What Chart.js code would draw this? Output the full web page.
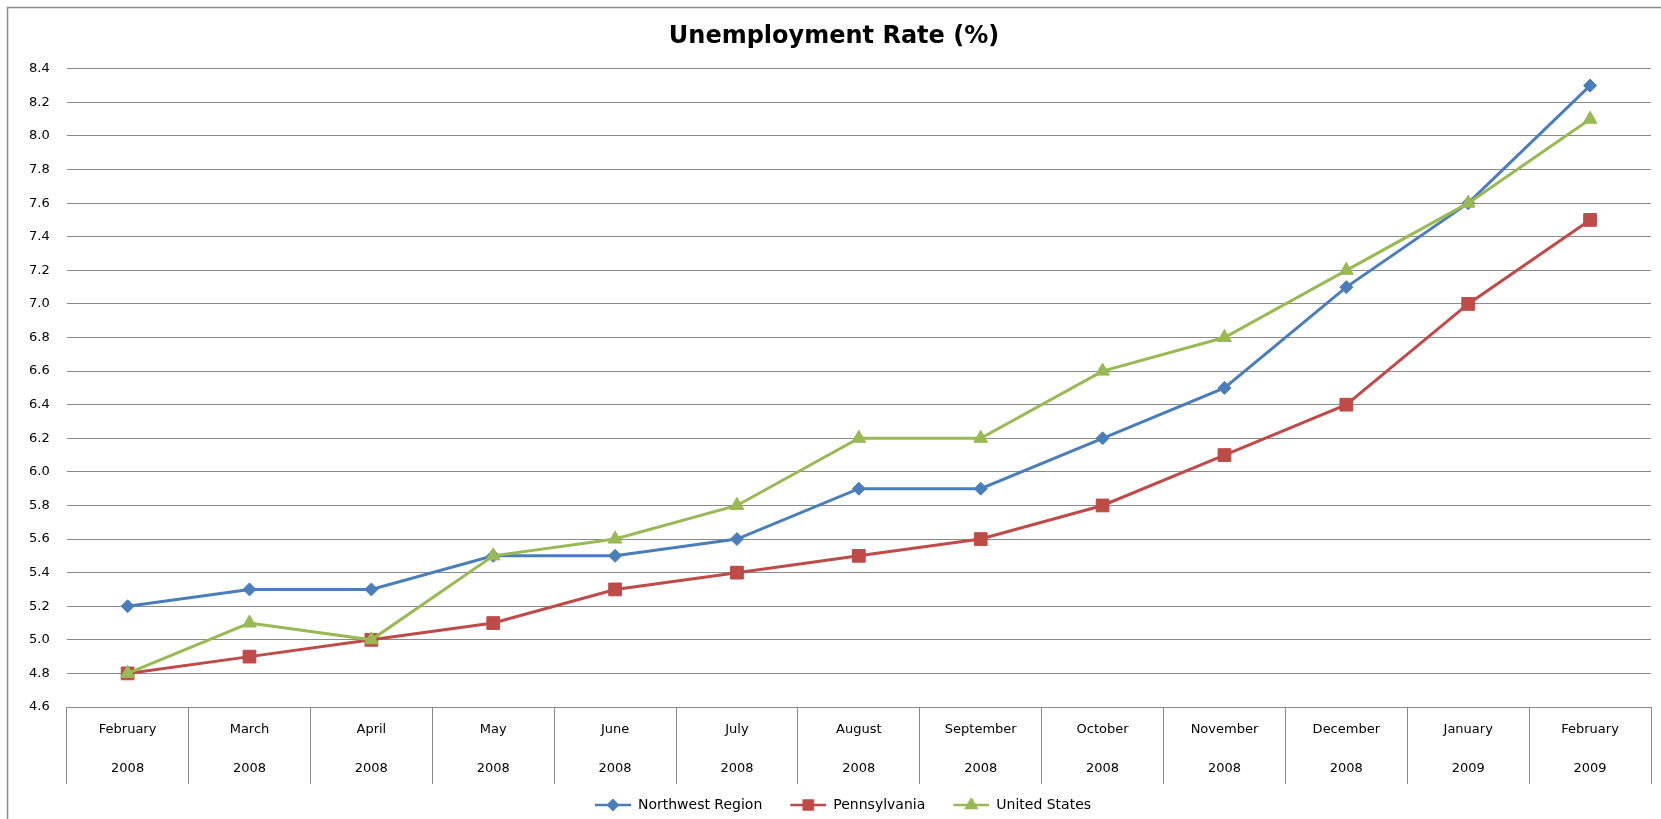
<!DOCTYPE html>
<html>
<head>
<meta charset="utf-8">
<title>Unemployment Rate (%)</title>
<script src="https://cdn.jsdelivr.net/npm/chart.js@4.4.0/dist/chart.umd.min.js"></script>
<style>
  html, body { margin: 0; padding: 0; background: #fff; }
  #wrap { width: 1661px; height: 819px; position: relative; }
</style>
</head>
<body>
<div id="wrap"><canvas id="chart" width="1661" height="819"></canvas></div>
<script>
// category axis: month on first line, year on second
const months = ['February', 'March', 'April', 'May', 'June', 'July', 'August',
  'September', 'October', 'November', 'December', 'January', 'February'];
const years = ['2008', '2008', '2008', '2008', '2008', '2008', '2008',
  '2008', '2008', '2008', '2008', '2009', '2009'];

// series values (%)
const northwest = [5.2, 5.3, 5.3, 5.5, 5.5, 5.6, 5.9, 5.9, 6.2, 6.5, 7.1, 7.6, 8.3];
const pennsylvania = [4.8, 4.9, 5.0, 5.1, 5.3, 5.4, 5.5, 5.6, 5.8, 6.1, 6.4, 7.0, 7.5];
const unitedStates = [4.8, 5.1, 5.0, 5.5, 5.6, 5.8, 6.2, 6.2, 6.6, 6.8, 7.2, 7.6, 8.1];

// value axis
const yMin = 4.6;
const yMax = 8.4;
const yStep = 0.2;

const FONT = 'DejaVu Sans';
const GRID = '#8a8a8a';

const series = [
  { label: 'Northwest Region', data: northwest, color: '#4a7ebb', style: 'rectRot', radius: 6.5, order: 3 },
  { label: 'Pennsylvania', data: pennsylvania, color: '#be4b48', style: 'rect', radius: 9, order: 2 },
  { label: 'United States', data: unitedStates, color: '#98b954', style: 'triangle', radius: 8, order: 1 },
];

// legend icon: blank lead-in (acts as gap between entries) then line + marker
const ICON_W = 54, ICON_GAP = 18;
function legendIcon(s) {
  const c = document.createElement('canvas');
  c.width = ICON_W; c.height = 14;
  const ctx = c.getContext('2d');
  ctx.strokeStyle = s.color;
  ctx.lineWidth = 2.5;
  ctx.beginPath();
  ctx.moveTo(ICON_GAP, 7); ctx.lineTo(ICON_W, 7);
  ctx.stroke();
  ctx.fillStyle = s.color;
  Chart.helpers.drawPoint(ctx, { pointStyle: s.style, radius: s.radius * 0.72, rotation: 0, borderWidth: 1 },
    ICON_GAP + (ICON_W - ICON_GAP) / 2, 7);
  return c;
}

const framePlugin = {
  id: 'frame',
  beforeDraw(chart) {
    const ctx = chart.ctx;
    ctx.save();
    ctx.strokeStyle = '#8c8c8c';
    ctx.lineWidth = 1.5;
    ctx.beginPath();
    ctx.moveTo(7.5, chart.height + 5);
    ctx.lineTo(7.5, 7.5);
    ctx.lineTo(chart.width + 5, 7.5);
    ctx.stroke();
    ctx.restore();
  }
};

new Chart(document.getElementById('chart'), {
  type: 'line',
  data: {
    labels: months.map((m, i) => [m, years[i]]),
    datasets: series.map(s => ({
      label: s.label,
      data: s.data,
      borderColor: s.color,
      backgroundColor: s.color,
      borderWidth: 3,
      pointStyle: s.style,
      pointRadius: s.radius,
      pointBorderWidth: 1,
      pointBackgroundColor: s.color,
      pointBorderColor: s.color,
      tension: 0,
      order: s.order,
    })),
  },
  options: {
    responsive: false,
    animation: false,
    devicePixelRatio: 1,
    layout: { padding: { left: 12, right: 5, top: 0, bottom: -3 } },
    plugins: {
      tooltip: { enabled: false },
      title: {
        display: true,
        text: 'Unemployment Rate (%)',
        color: '#000',
        font: { family: FONT, size: 24, weight: 'bold' },
        padding: { top: 22, bottom: 18 },
      },
      legend: {
        position: 'bottom',
        labels: {
          color: '#000',
          font: { family: FONT, size: 14 },
          usePointStyle: true,
          pointStyleWidth: ICON_W,
          padding: 10,
          generateLabels: chart => series.map((s, i) => ({
            text: s.label,
            pointStyle: legendIcon(s),
            fillStyle: s.color,
            strokeStyle: s.color,
            lineWidth: 0,
            datasetIndex: i,
            hidden: false,
          })),
        },
      },
    },
    scales: {
      x: {
        type: 'category',
        offset: true,
        grid: {
          offset: true,
          drawOnChartArea: false,
          drawTicks: true,
          tickLength: 77,
          color: GRID,
          lineWidth: 1,
        },
        border: { display: true, color: GRID, width: 1 },
        ticks: {
          color: '#000',
          font: { family: FONT, size: 13, lineHeight: 3 },
          padding: -73.5,
          maxRotation: 0,
          autoSkip: false,
        },
        // labels sit inside the separator ticks, so fix the band height
        afterFit: scale => { scale.height = 81; },
      },
      y: {
        min: yMin,
        max: yMax,
        grid: { color: GRID, lineWidth: 1, drawTicks: false },
        border: { display: false },
        ticks: {
          stepSize: yStep,
          color: '#000',
          font: { family: FONT, size: 13 },
          padding: 17,
          callback: v => Number(v).toFixed(1),
        },
      },
    },
  },
  plugins: [framePlugin],
});
</script>
</body>
</html>
